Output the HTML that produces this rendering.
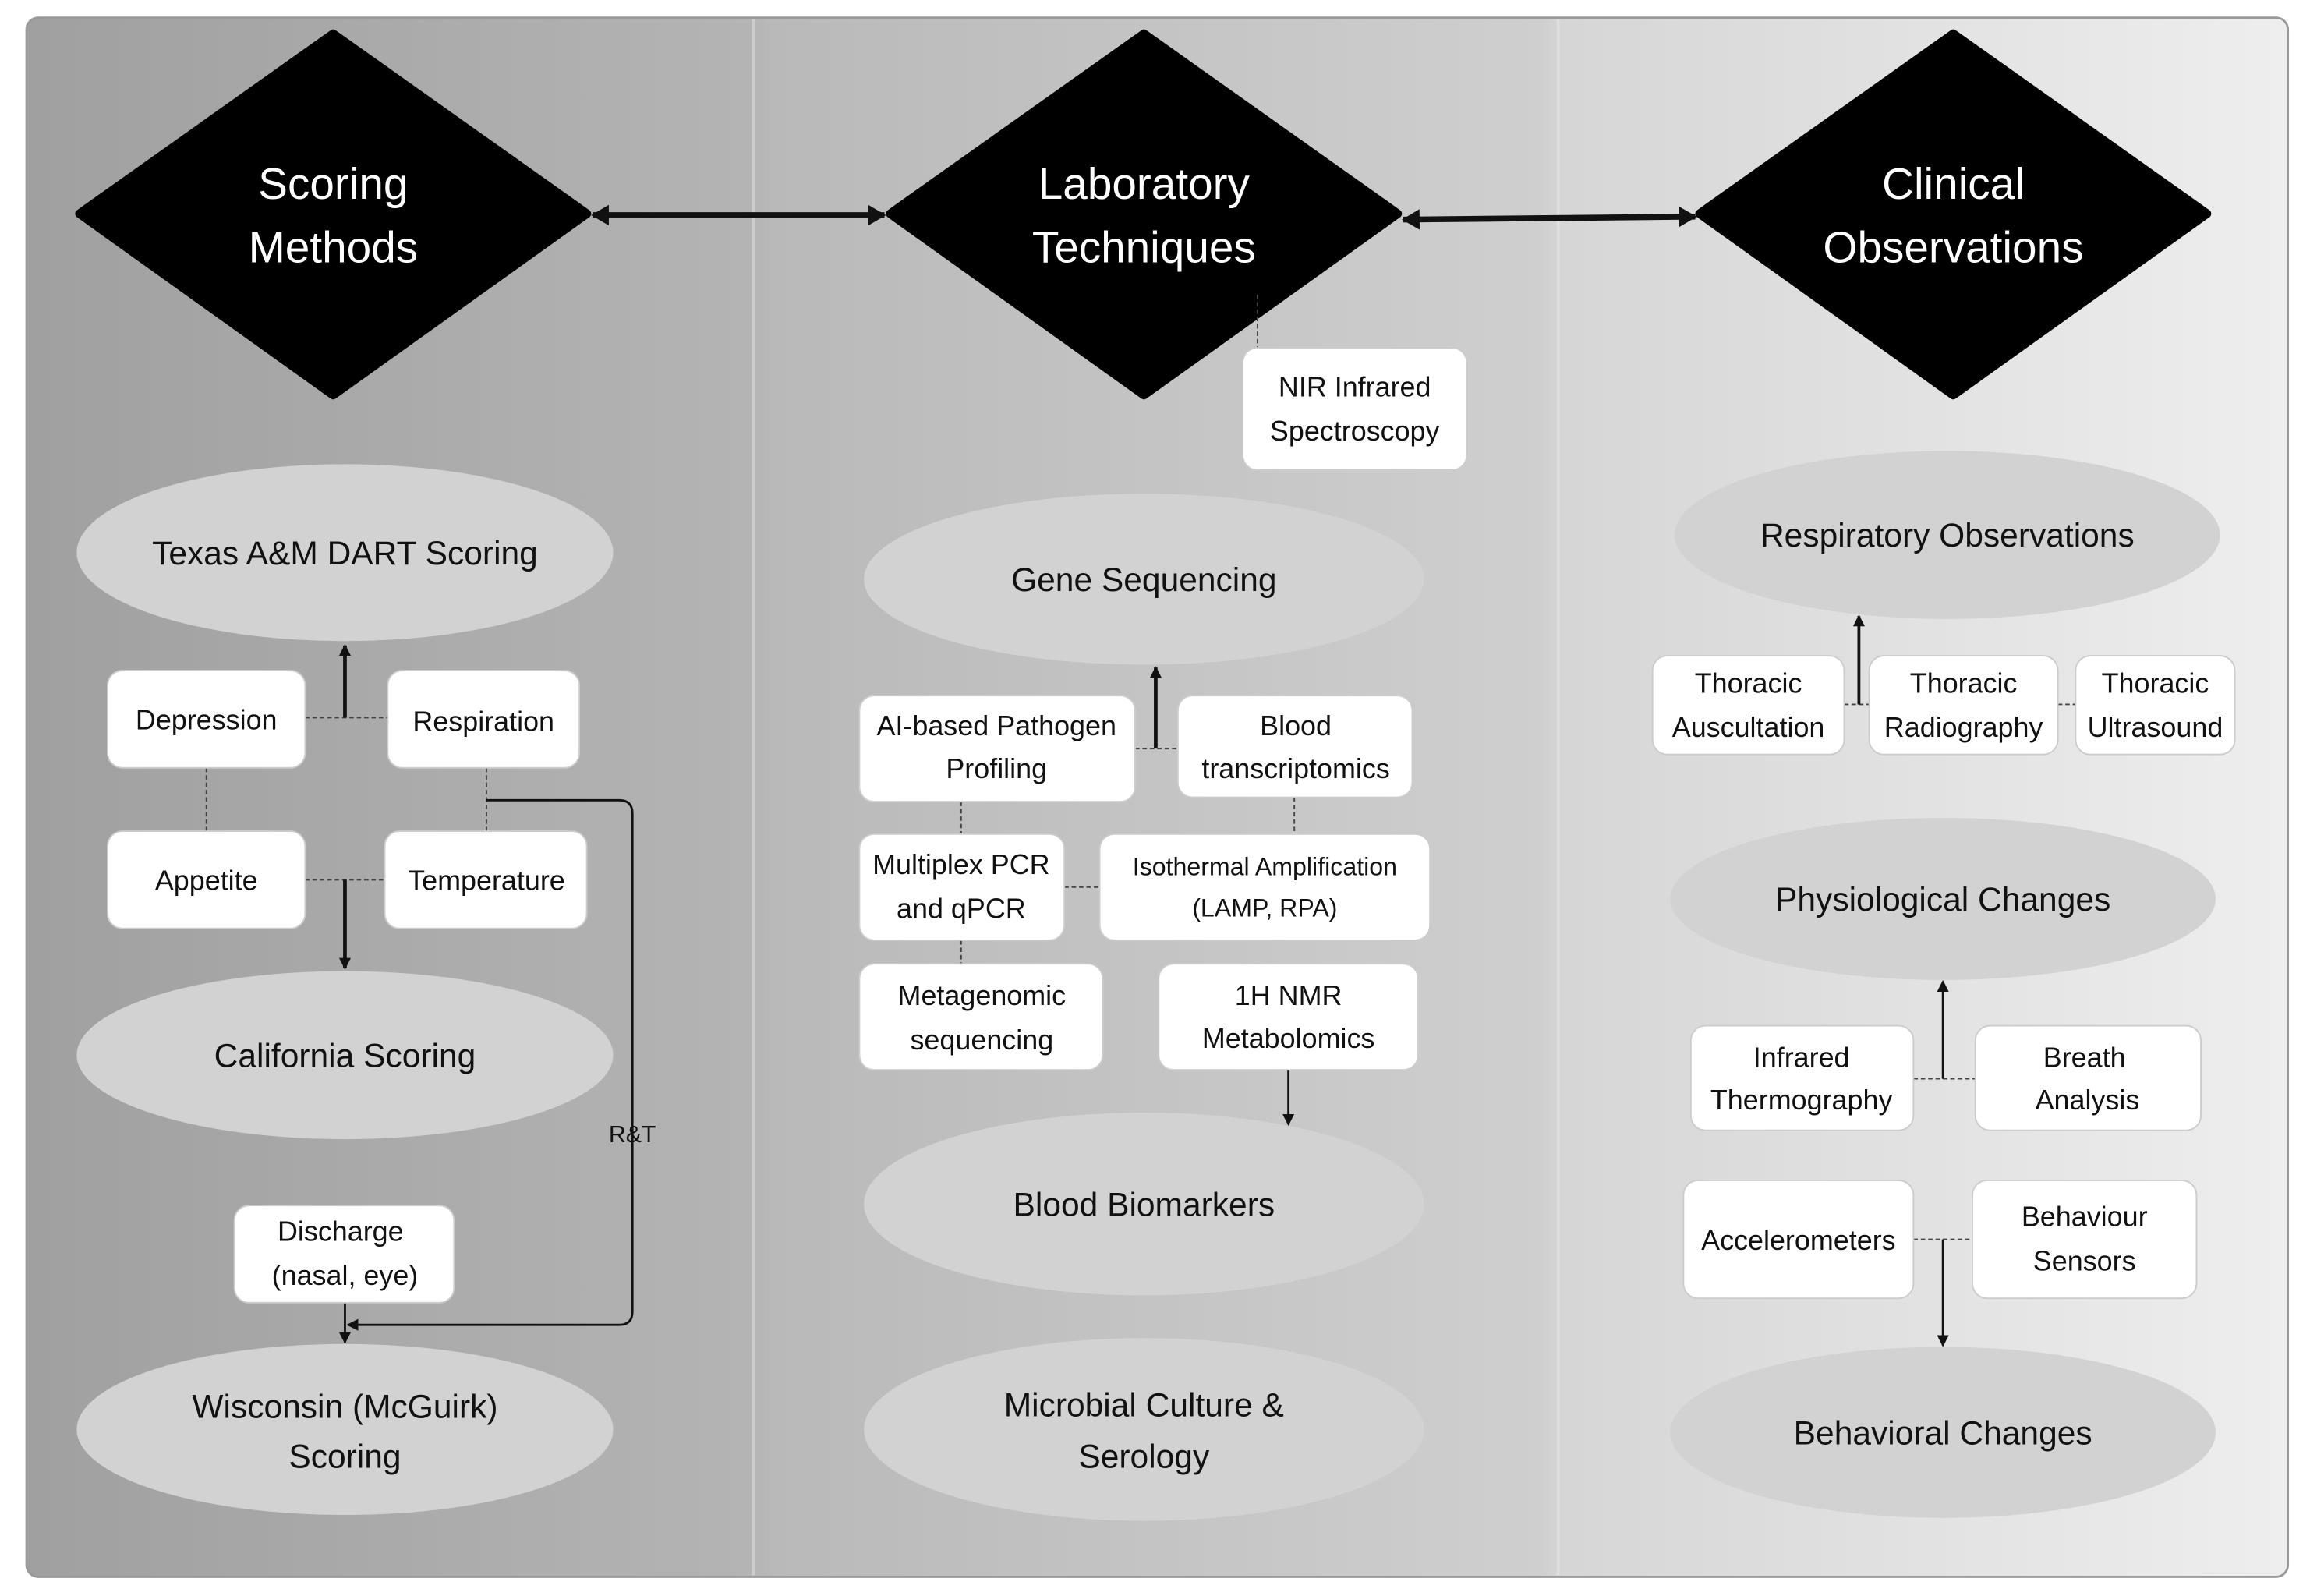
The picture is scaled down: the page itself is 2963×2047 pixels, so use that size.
<!DOCTYPE html>
<html><head><meta charset="utf-8"><style>
html,body{margin:0;padding:0;background:#fff;width:2963px;height:2047px;overflow:hidden}
svg{display:block}
text{font-family:"Liberation Sans",sans-serif;fill:#111;text-anchor:middle}
.d{fill:#fff;font-size:30px}
.e{font-size:22.5px}
.b{font-size:19px}
.bx{fill:#fff;stroke:#ccc;stroke-width:1}
.el{fill:#d2d2d2}
.ds{stroke:#444;stroke-width:1;stroke-dasharray:3,2;fill:none}
.ln{stroke:#111;fill:none}
</style></head><body>
<svg width="2963" height="2047" viewBox="0 0 1567 1083" preserveAspectRatio="none" xmlns="http://www.w3.org/2000/svg">
<defs>
<linearGradient id="g" x1="0" x2="1" y1="0" y2="0">
<stop offset="0" stop-color="#a0a0a0"/><stop offset="0.32" stop-color="#b4b4b4"/>
<stop offset="0.33" stop-color="#b9b9b9"/><stop offset="0.67" stop-color="#cfcfcf"/>
<stop offset="0.68" stop-color="#d6d6d6"/><stop offset="1" stop-color="#eeeeee"/>
</linearGradient>
<marker id="a" markerWidth="8" markerHeight="8" refX="7" refY="4" orient="auto" markerUnits="userSpaceOnUse"><path d="M0,0 L8,4 L0,8 z" fill="#111"/></marker>
<marker id="A" markerWidth="12" markerHeight="14" refX="11" refY="7" orient="auto-start-reverse" markerUnits="userSpaceOnUse"><path d="M0,0 L12,7 L0,14 z" fill="#111"/></marker>
</defs>
<rect x="18" y="12" width="1534" height="1058" rx="8" fill="url(#g)" stroke="#999" stroke-width="1.5"/>
<line x1="511" y1="13" x2="511" y2="1069" stroke="#ccc" stroke-width="2"/>
<line x1="1057" y1="13" x2="1057" y2="1069" stroke="#e0e0e0" stroke-width="2"/>

<path d="M226,23 L398,145 L226,268 L54,145 Z" fill="#000" stroke-linejoin="round" stroke="#000" stroke-width="6"/>
<path d="M776,23 L948,145 L776,268 L604,145 Z" fill="#000" stroke="#000" stroke-width="6" stroke-linejoin="round"/>
<path d="M1325,23 L1497,145 L1325,268 L1153,145 Z" fill="#000" stroke="#000" stroke-width="6" stroke-linejoin="round"/>
<text class="d" x="226" y="135">Scoring</text><text class="d" x="226" y="178">Methods</text>
<text class="d" x="776" y="135">Laboratory</text><text class="d" x="776" y="178">Techniques</text>
<text class="d" x="1325" y="135">Clinical</text><text class="d" x="1325" y="178">Observations</text>
<line x1="402" y1="146" x2="600" y2="146" stroke="#111" stroke-width="4" marker-start="url(#A)" marker-end="url(#A)"/>
<line x1="952" y1="149" x2="1150" y2="147" stroke="#111" stroke-width="4" marker-start="url(#A)" marker-end="url(#A)"/>

<ellipse class="el" cx="234" cy="375" rx="182" ry="60"/><text class="e" x="234" y="383">Texas A&amp;M DART Scoring</text>
<ellipse class="el" cx="234" cy="716" rx="182" ry="57"/><text class="e" x="234" y="724">California Scoring</text>
<ellipse class="el" cx="234" cy="970" rx="182" ry="58"/><text class="e" x="234" y="962">Wisconsin (McGuirk)</text><text class="e" x="234" y="996">Scoring</text>
<ellipse class="el" cx="776" cy="393" rx="190" ry="58"/><text class="e" x="776" y="401">Gene Sequencing</text>
<ellipse class="el" cx="776" cy="817" rx="190" ry="62"/><text class="e" x="776" y="825">Blood Biomarkers</text>
<ellipse class="el" cx="776" cy="970" rx="190" ry="62"/><text class="e" x="776" y="961">Microbial Culture &amp;</text><text class="e" x="776" y="996">Serology</text>
<ellipse class="el" cx="1321" cy="363" rx="185" ry="57"/><text class="e" x="1321" y="371">Respiratory Observations</text>
<ellipse class="el" cx="1318" cy="610" rx="185" ry="55"/><text class="e" x="1318" y="618">Physiological Changes</text>
<ellipse class="el" cx="1318" cy="972" rx="185" ry="58"/><text class="e" x="1318" y="980">Behavioral Changes</text>

<line class="ds" x1="207" y1="487" x2="263" y2="487"/>
<line class="ln" x1="234" y1="487" x2="234" y2="438" stroke-width="2.5" marker-end="url(#a)"/>
<line class="ds" x1="140" y1="521" x2="140" y2="564"/>
<line class="ds" x1="330" y1="521" x2="330" y2="564"/>
<line class="ds" x1="207" y1="597" x2="261" y2="597"/>
<line class="ln" x1="234" y1="597" x2="234" y2="657" stroke-width="2.5" marker-end="url(#a)"/>
<path class="ln" stroke-width="1.5" d="M330,543 H420 Q429,543 429,552 V890 Q429,899 420,899 H236" marker-end="url(#a)"/>
<text x="429" y="775" style="font-size:16px">R&amp;T</text>
<line class="ln" x1="234" y1="884" x2="234" y2="911" stroke-width="1.5" marker-end="url(#a)"/>

<line class="ds" x1="853" y1="200" x2="853" y2="236"/>
<line class="ds" x1="770" y1="508" x2="799" y2="508"/>
<line class="ln" x1="784" y1="508" x2="784" y2="453" stroke-width="2.5" marker-end="url(#a)"/>
<line class="ds" x1="652" y1="544" x2="652" y2="566"/>
<line class="ds" x1="878" y1="541" x2="878" y2="566"/>
<line class="ds" x1="722" y1="602" x2="746" y2="602"/>
<line class="ds" x1="652" y1="638" x2="652" y2="654"/>
<line class="ln" x1="874" y1="726" x2="874" y2="763" stroke-width="1.5" marker-end="url(#a)"/>

<line class="ds" x1="1251" y1="478" x2="1268" y2="478"/>
<line class="ds" x1="1396" y1="478" x2="1408" y2="478"/>
<line class="ln" x1="1261" y1="478" x2="1261" y2="418" stroke-width="2" marker-end="url(#a)"/>
<line class="ds" x1="1298" y1="732" x2="1340" y2="732"/>
<line class="ln" x1="1318" y1="732" x2="1318" y2="666" stroke-width="1.5" marker-end="url(#a)"/>
<line class="ds" x1="1298" y1="841" x2="1338" y2="841"/>
<line class="ln" x1="1318" y1="841" x2="1318" y2="913" stroke-width="1.5" marker-end="url(#a)"/>

<rect class="bx" x="73" y="455" width="134" height="66" rx="10"/><text class="b" x="140" y="495">Depression</text>
<rect class="bx" x="263" y="455" width="130" height="66" rx="10"/><text class="b" x="328" y="496">Respiration</text>
<rect class="bx" x="73" y="564" width="134" height="66" rx="10"/><text class="b" x="140" y="604">Appetite</text>
<rect class="bx" x="261" y="564" width="137" height="66" rx="10"/><text class="b" x="330" y="604">Temperature</text>
<rect class="bx" x="159" y="818" width="149" height="66" rx="10"/><text class="b" x="231" y="842">Discharge</text><text class="b" x="234" y="872">(nasal, eye)</text>

<rect class="bx" x="843" y="236" width="152" height="83" rx="10"/><text class="b" x="919" y="269">NIR Infrared</text><text class="b" x="919" y="299">Spectroscopy</text>
<rect class="bx" x="583" y="472" width="187" height="72" rx="10"/><text class="b" x="676" y="499">AI-based Pathogen</text><text class="b" x="676" y="528">Profiling</text>
<rect class="bx" x="799" y="472" width="159" height="69" rx="10"/><text class="b" x="879" y="499">Blood</text><text class="b" x="879" y="528">transcriptomics</text>
<rect class="bx" x="583" y="566" width="139" height="72" rx="10"/><text class="b" x="652" y="593">Multiplex PCR</text><text class="b" x="652" y="623">and qPCR</text>
<rect class="bx" x="746" y="566" width="224" height="72" rx="10"/><text class="b" x="858" y="594" style="font-size:17px">Isothermal Amplification</text><text class="b" x="858" y="622" style="font-size:17px">(LAMP, RPA)</text>
<rect class="bx" x="583" y="654" width="165" height="72" rx="10"/><text class="b" x="666" y="682">Metagenomic</text><text class="b" x="666" y="712">sequencing</text>
<rect class="bx" x="786" y="654" width="176" height="72" rx="10"/><text class="b" x="874" y="682">1H NMR</text><text class="b" x="874" y="711">Metabolomics</text>

<rect class="bx" x="1121" y="445" width="130" height="67" rx="10"/><text class="b" x="1186" y="470">Thoracic</text><text class="b" x="1186" y="500">Auscultation</text>
<rect class="bx" x="1268" y="445" width="128" height="67" rx="10"/><text class="b" x="1332" y="470">Thoracic</text><text class="b" x="1332" y="500">Radiography</text>
<rect class="bx" x="1408" y="445" width="108" height="67" rx="10"/><text class="b" x="1462" y="470">Thoracic</text><text class="b" x="1462" y="500">Ultrasound</text>
<rect class="bx" x="1147" y="696" width="151" height="71" rx="10"/><text class="b" x="1222" y="724">Infrared</text><text class="b" x="1222" y="753">Thermography</text>
<rect class="bx" x="1340" y="696" width="153" height="71" rx="10"/><text class="b" x="1414" y="724">Breath</text><text class="b" x="1416" y="753">Analysis</text>
<rect class="bx" x="1142" y="801" width="156" height="80" rx="10"/><text class="b" x="1220" y="848">Accelerometers</text>
<rect class="bx" x="1338" y="801" width="152" height="80" rx="10"/><text class="b" x="1414" y="832">Behaviour</text><text class="b" x="1414" y="862">Sensors</text>
</svg>
</body></html>
